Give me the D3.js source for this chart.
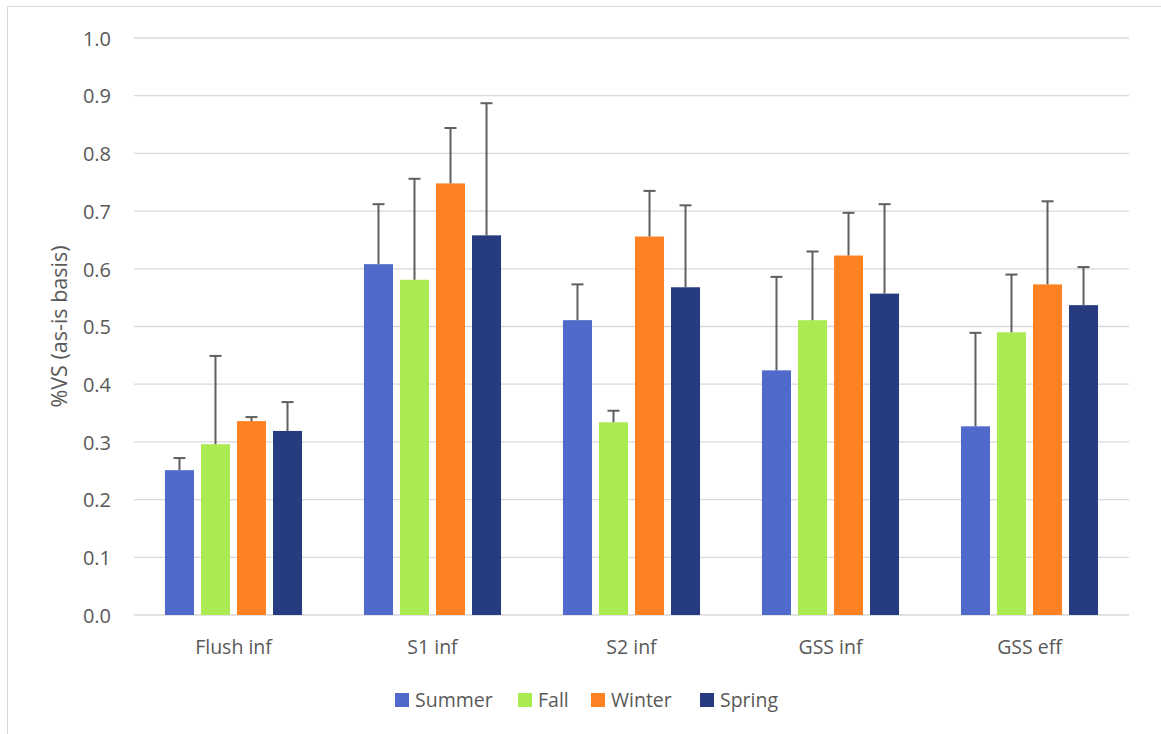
<!DOCTYPE html>
<html><head><meta charset="utf-8">
<script src="https://cdn.jsdelivr.net/npm/d3@7"></script>
<style>body{margin:0;background:#fff}svg{display:block}</style>
</head><body>
<script>
const categories = ["Flush inf","S1 inf","S2 inf","GSS inf","GSS eff"];
const seriesNames = ["Summer","Fall","Winter","Spring"];
const summer = [0.251,0.608,0.511,0.424,0.327];
const fall   = [0.296,0.581,0.334,0.511,0.490];
const winter = [0.336,0.748,0.656,0.623,0.573];
const spring = [0.319,0.658,0.568,0.557,0.537];
const summerErrTop = [0.272,0.712,0.573,0.586,0.489];
const fallErrTop   = [0.449,0.756,0.354,0.630,0.590];
const winterErrTop = [0.343,0.844,0.735,0.697,0.717];
const springErrTop = [0.369,0.887,0.710,0.712,0.603];
const yTicks = [0,0.1,0.2,0.3,0.4,0.5,0.6,0.7,0.8,0.9,1.0];
const colors = ["#4f6acb","#abeb52","#fe8221","#263b80"];

const values = [summer, fall, winter, spring];
const errTops = [summerErrTop, fallErrTop, winterErrTop, springErrTop];

const W = 1161, H = 734;
const svg = d3.select("body").append("svg").attr("width", W).attr("height", H);
const font = "'Open Sans', 'Noto Sans', sans-serif";
const textColor = "#595959";

svg.append("rect").attr("x",7.5).attr("y",6.5).attr("width",1160).attr("height",740)
  .attr("fill","#fff").attr("stroke","#d9d9d9").attr("stroke-width",1);

const plotL = 134, plotR = 1129, plotT = 38, plotB = 615;
const x = d3.scaleBand().domain(categories).range([plotL, plotR]).paddingInner(0).paddingOuter(0);
const y = d3.scaleLinear().domain([0,1]).range([plotB, plotT]);

// gridlines
svg.append("g").selectAll("line").data(yTicks).join("line")
  .attr("x1", plotL).attr("x2", plotR)
  .attr("y1", d => y(d)).attr("y2", d => y(d))
  .attr("stroke","#d9d9d9").attr("stroke-width",1.3);

// y axis labels
const yAxis = d3.axisLeft(y).tickValues(yTicks).tickFormat(d3.format(".1f")).tickSize(0).tickPadding(0);
const gy = svg.append("g").attr("transform",`translate(111,0)`).call(yAxis);
gy.select(".domain").remove();
gy.selectAll("text").attr("font-family",font).attr("font-size",20).attr("fill",textColor).attr("dy","0.36em");

// x axis labels
const xAxis = d3.axisBottom(x).tickSize(0).tickPadding(0);
const gx = svg.append("g").attr("transform",`translate(0,${plotB})`).call(xAxis);
gx.select(".domain").remove();
gx.selectAll("text").attr("font-family",font).attr("font-size",19.5).attr("fill",textColor).attr("y",39).attr("dy","0");

// inner band for series
const xs = d3.scaleBand().domain(seriesNames).range([0, x.bandwidth()]).paddingInner(0.194).paddingOuter(0.86);

seriesNames.forEach((s, si) => {
  const g = svg.append("g");
  g.selectAll("rect").data(categories).join("rect")
    .attr("x", (c) => x(c) + xs(s))
    .attr("width", xs.bandwidth())
    .attr("y", (c,i) => y(values[si][i]))
    .attr("height", (c,i) => y(0) - y(values[si][i]))
    .attr("fill", colors[si]);
});
// error bars
seriesNames.forEach((s, si) => {
  const g = svg.append("g").attr("stroke","#5f5f5f").attr("stroke-width",2);
  categories.forEach((c,i) => {
    const cx = x(c) + xs(s) + xs.bandwidth()/2;
    g.append("line").attr("x1",cx).attr("x2",cx).attr("y1",y(values[si][i])).attr("y2",y(errTops[si][i]));
    g.append("line").attr("x1",cx-6).attr("x2",cx+6).attr("y1",y(errTops[si][i])).attr("y2",y(errTops[si][i]));
  });
});

// y axis title
svg.append("text").attr("transform",`translate(67,${(plotT+plotB)/2}) rotate(-90)`)
  .attr("text-anchor","middle")
  .attr("font-family",font).attr("font-size",21.5).attr("fill",textColor).text("%VS (as-is basis)");

// legend
const legendX = [395, 518, 591, 700];
const lg = svg.append("g");
seriesNames.forEach((s, si) => {
  lg.append("rect").attr("x", legendX[si]).attr("y", 693).attr("width",14).attr("height",14).attr("fill",colors[si]);
  lg.append("text").attr("x", legendX[si]+20).attr("y", 700).attr("dy","0.36em")
    .attr("font-family",font).attr("font-size",19.5).attr("fill",textColor).text(s);
});
</script>
</body></html>
